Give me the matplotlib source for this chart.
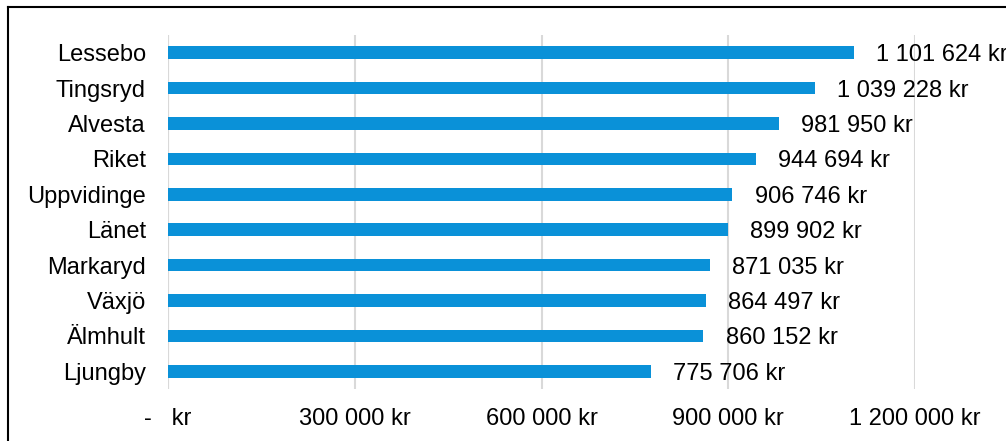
import matplotlib.pyplot as plt
from matplotlib.lines import Line2D

plt.rcParams["font.family"] = ["Liberation Sans", "DejaVu Sans"]

kommuner = ["Lessebo", "Tingsryd", "Alvesta", "Riket", "Uppvidinge",
            "Länet", "Markaryd", "Växjö", "Älmhult", "Ljungby"]
belopp = [1101624, 1039228, 981950, 944694, 906746,
          899902, 871035, 864497, 860152, 775706]
xticks = [0, 300000, 600000, 900000, 1200000]
xtick_labels = ["-   kr", "300 000 kr", "600 000 kr", "900 000 kr", "1 200 000 kr"]

BLUE = "#0a91d8"
GRID = "#d9d9d9"
FS = 17


def fmt_kr(v):
    return f"{v:,}".replace(",", " ") + " kr"


fig = plt.figure(figsize=(10.06, 4.41), dpi=100)
ax = fig.add_axes([168 / 1006, 1 - 389 / 441, (915 - 168) / 1006, (389 - 35) / 441])

ypos = list(range(len(kommuner)))
bars = ax.barh(ypos, belopp, height=0.36, color=BLUE, zorder=3)
texts = ax.bar_label(bars, labels=[fmt_kr(v) for v in belopp], padding=16,
                     fontsize=FS, color="black", clip_on=False)
for t in texts:
    t.set_va("center_baseline")

ax.set_ylim(len(kommuner) - 0.5, -0.5)
ax.set_yticks(ypos)
ax.set_yticklabels(kommuner, fontsize=FS)
ax.set_xlim(0, 1200000)
ax.set_xticks(xticks)
ax.set_xticklabels(xtick_labels, fontsize=FS)
ax.tick_params(axis="y", length=0, pad=16)
ax.tick_params(axis="x", length=0, pad=14)

ax.grid(axis="x", color=GRID, linewidth=1.5, zorder=0)
for s in ["top", "right", "bottom", "left"]:
    ax.spines[s].set_visible(False)
ax.axvline(0, color=GRID, linewidth=1.5, zorder=1)

# chart frame (cropped on right and bottom in the reference)
fy = 1 - 7 / 441
fx = 8 / 1006
fig.add_artist(Line2D([fx, 1], [fy, fy], transform=fig.transFigure, color="black", linewidth=1.5))
fig.add_artist(Line2D([fx, fx], [0, fy], transform=fig.transFigure, color="black", linewidth=1.5))

fig.savefig("out.png", dpi=100, facecolor="white")
